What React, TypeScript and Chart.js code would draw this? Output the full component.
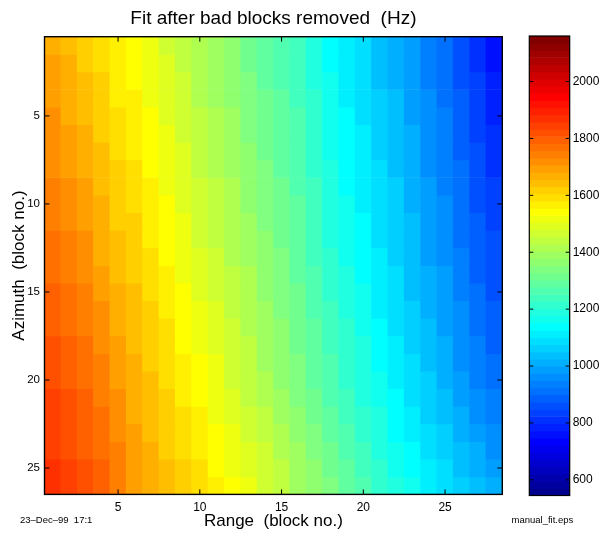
import React, { useEffect, useRef } from "react";
import { Chart, registerables } from "chart.js";

Chart.register(...registerables);

// ---------------- data ----------------
const rangeBlocks = [1, 2, 3, 4, 5, 6, 7, 8, 9, 10, 11, 12, 13, 14, 15, 16, 17, 18, 19, 20, 21, 22, 23, 24, 25, 26, 27, 28];
const azimuthBlocks = [1, 2, 3, 4, 5, 6, 7, 8, 9, 10, 11, 12, 13, 14, 15, 16, 17, 18, 19, 20, 21, 22, 23, 24, 25, 26];

const az01 = [1674, 1648, 1618, 1590, 1558, 1535, 1505, 1478, 1445, 1408, 1380, 1355, 1318, 1288, 1262, 1235, 1190, 1140, 1105, 1075, 1038, 1010, 975, 938, 908, 862, 812, 762];
const az02 = [1682, 1656, 1626, 1598, 1565, 1542, 1512, 1484, 1451, 1414, 1386, 1361, 1324, 1294, 1268, 1240, 1195, 1146, 1111, 1081, 1044, 1015, 980, 943, 913, 868, 818, 770];
const az03 = [1690, 1664, 1634, 1605, 1572, 1549, 1518, 1490, 1457, 1420, 1393, 1367, 1331, 1300, 1273, 1245, 1200, 1151, 1116, 1086, 1049, 1020, 985, 948, 918, 873, 825, 778];
const az04 = [1698, 1672, 1642, 1612, 1579, 1556, 1524, 1496, 1463, 1426, 1400, 1373, 1338, 1306, 1278, 1250, 1205, 1156, 1121, 1091, 1054, 1025, 990, 953, 923, 878, 832, 786];
const az05 = [1706, 1680, 1650, 1620, 1586, 1563, 1531, 1502, 1469, 1432, 1406, 1379, 1344, 1312, 1284, 1255, 1210, 1162, 1127, 1097, 1060, 1030, 995, 958, 928, 884, 838, 794];
const az06 = [1714, 1688, 1658, 1628, 1593, 1570, 1538, 1508, 1475, 1438, 1412, 1385, 1350, 1318, 1290, 1260, 1215, 1168, 1133, 1103, 1066, 1035, 1000, 963, 933, 890, 844, 802];
const az07 = [1722, 1696, 1666, 1635, 1600, 1577, 1544, 1514, 1481, 1444, 1419, 1391, 1357, 1324, 1295, 1265, 1220, 1173, 1138, 1108, 1071, 1040, 1005, 968, 938, 895, 851, 810];
const az08 = [1730, 1704, 1674, 1642, 1607, 1584, 1550, 1520, 1487, 1450, 1426, 1397, 1364, 1330, 1300, 1270, 1225, 1178, 1143, 1113, 1076, 1045, 1010, 973, 943, 900, 858, 818];
const az09 = [1738, 1712, 1682, 1650, 1614, 1591, 1557, 1526, 1493, 1456, 1432, 1403, 1370, 1336, 1306, 1275, 1230, 1184, 1149, 1119, 1082, 1050, 1015, 978, 948, 906, 864, 826];
const az10 = [1746, 1720, 1690, 1658, 1621, 1598, 1564, 1532, 1499, 1462, 1438, 1409, 1376, 1342, 1312, 1280, 1235, 1190, 1155, 1125, 1088, 1055, 1020, 983, 953, 912, 870, 834];
const az11 = [1754, 1728, 1698, 1665, 1628, 1605, 1570, 1538, 1505, 1468, 1445, 1415, 1383, 1348, 1317, 1285, 1240, 1195, 1160, 1130, 1093, 1060, 1025, 988, 958, 917, 877, 842];
const az12 = [1762, 1736, 1706, 1672, 1635, 1612, 1576, 1544, 1511, 1474, 1452, 1421, 1390, 1354, 1322, 1290, 1245, 1200, 1165, 1135, 1098, 1065, 1030, 993, 963, 922, 884, 850];
const az13 = [1770, 1744, 1714, 1680, 1642, 1619, 1583, 1550, 1517, 1480, 1458, 1427, 1396, 1360, 1328, 1295, 1250, 1206, 1171, 1141, 1104, 1070, 1035, 998, 968, 928, 890, 858];
const az14 = [1779, 1752, 1723, 1689, 1650, 1626, 1591, 1557, 1524, 1489, 1466, 1434, 1403, 1366, 1335, 1301, 1257, 1214, 1179, 1148, 1111, 1077, 1042, 1005, 975, 935, 897, 865];
const az15 = [1787, 1761, 1732, 1698, 1659, 1633, 1599, 1565, 1532, 1497, 1473, 1442, 1409, 1373, 1341, 1308, 1264, 1221, 1186, 1155, 1118, 1083, 1048, 1013, 981, 942, 905, 873];
const az16 = [1796, 1769, 1741, 1707, 1667, 1640, 1607, 1572, 1539, 1506, 1481, 1449, 1416, 1379, 1348, 1314, 1271, 1229, 1194, 1162, 1125, 1090, 1055, 1020, 988, 949, 912, 880];
const az17 = [1804, 1778, 1751, 1715, 1675, 1647, 1614, 1580, 1546, 1514, 1489, 1456, 1422, 1386, 1355, 1321, 1279, 1237, 1202, 1169, 1131, 1096, 1062, 1028, 995, 957, 920, 888];
const az18 = [1813, 1786, 1760, 1724, 1683, 1654, 1622, 1587, 1553, 1523, 1497, 1463, 1429, 1392, 1362, 1327, 1286, 1245, 1210, 1176, 1138, 1103, 1069, 1035, 1002, 964, 927, 895];
const az19 = [1821, 1795, 1769, 1733, 1692, 1661, 1630, 1595, 1561, 1531, 1504, 1471, 1435, 1399, 1368, 1334, 1293, 1252, 1217, 1183, 1145, 1109, 1075, 1043, 1008, 971, 935, 903];
const az20 = [1830, 1803, 1778, 1742, 1700, 1668, 1638, 1602, 1568, 1540, 1512, 1478, 1442, 1405, 1375, 1340, 1300, 1260, 1225, 1190, 1152, 1116, 1082, 1050, 1015, 978, 942, 910];
const az21 = [1837, 1810, 1785, 1750, 1708, 1674, 1643, 1609, 1576, 1548, 1519, 1488, 1453, 1417, 1387, 1350, 1312, 1271, 1237, 1201, 1164, 1127, 1094, 1062, 1028, 992, 957, 925];
const az22 = [1843, 1817, 1791, 1758, 1717, 1680, 1649, 1615, 1584, 1556, 1526, 1497, 1465, 1429, 1398, 1360, 1324, 1283, 1250, 1211, 1176, 1138, 1105, 1073, 1041, 1006, 972, 940];
const az23 = [1850, 1824, 1798, 1766, 1725, 1687, 1654, 1622, 1592, 1564, 1534, 1507, 1476, 1442, 1410, 1370, 1336, 1294, 1262, 1222, 1189, 1149, 1117, 1085, 1054, 1020, 987, 955];
const az24 = [1857, 1831, 1805, 1774, 1733, 1693, 1659, 1629, 1599, 1572, 1541, 1516, 1487, 1454, 1422, 1380, 1347, 1305, 1274, 1233, 1201, 1159, 1128, 1097, 1066, 1034, 1001, 970];
const az25 = [1863, 1838, 1811, 1782, 1742, 1699, 1665, 1635, 1607, 1580, 1548, 1526, 1499, 1466, 1433, 1390, 1359, 1317, 1287, 1243, 1213, 1170, 1140, 1108, 1079, 1048, 1016, 985];
const az26 = [1870, 1845, 1818, 1790, 1750, 1705, 1670, 1642, 1615, 1588, 1555, 1535, 1510, 1478, 1445, 1400, 1371, 1328, 1299, 1254, 1225, 1181, 1151, 1120, 1092, 1062, 1031, 1000];

const fitRows = [az01, az02, az03, az04, az05, az06, az07, az08, az09, az10, az11, az12, az13, az14, az15, az16, az17, az18, az19, az20, az21, az22, az23, az24, az25, az26];

const xTicks = [5, 10, 15, 20, 25];
const yTicks = [5, 10, 15, 20, 25];
const colorbarTicks = [600, 800, 1000, 1200, 1400, 1600, 1800, 2000];
const colorLimits = [545, 2160];
const colorLevelCount = 64;

const titleText = "Fit after bad blocks removed  (Hz)";
const xTitle = "Range  (block no.)";
const yTitle = "Azimuth  (block no.)";
const dateText = "23\u2013Dec\u201399  17:1";
const fileText = "manual_fit.eps";

// ---------------- styling helpers ----------------
const FONT = "'Liberation Sans', Arial, Helvetica, sans-serif";
const W = 603;
const H = 533;

function jetColor(k: number): string {
  const c = (x: number) => Math.max(0, Math.min(1, x));
  let r = 0, g = 0, b = 0;
  if (k <= 7) { b = (9 + k) / 16; }
  else if (k <= 23) { g = (k - 7) / 16; b = 1; }
  else if (k <= 39) { r = (k - 23) / 16; g = 1; b = (39 - k) / 16; }
  else if (k <= 55) { r = 1; g = (55 - k) / 16; }
  else { r = (71 - k) / 16; }
  return `rgb(${Math.round(c(r) * 255)},${Math.round(c(g) * 255)},${Math.round(c(b) * 255)})`;
}

function valueColor(v: number): string {
  const [lo, hi] = colorLimits;
  let k = Math.floor(((v - lo) / (hi - lo)) * colorLevelCount);
  k = Math.max(0, Math.min(colorLevelCount - 1, k));
  return jetColor(k);
}

const colorLevels = Array.from({ length: colorLevelCount }, (_, i) => i);

function line(ctx: CanvasRenderingContext2D, x1: number, y1: number, x2: number, y2: number) {
  ctx.beginPath();
  ctx.moveTo(x1, y1);
  ctx.lineTo(x2, y2);
  ctx.stroke();
}

const mainFrame = {
  id: "mainFrame",
  afterDraw(chart: any) {
    const { ctx, chartArea: a, scales } = chart;
    const x = scales.x;
    const y = scales.y;
    ctx.save();
    ctx.strokeStyle = "#000";
    ctx.lineWidth = 1;
    const tl = 5;
    xTicks.forEach((v) => {
      const px = x.getPixelForValue(v);
      line(ctx, px, a.top, px, a.top + tl);
      line(ctx, px, a.bottom, px, a.bottom - tl);
    });
    yTicks.forEach((v) => {
      const py = y.getPixelForValue(v);
      line(ctx, a.left, py, a.left + tl, py);
      line(ctx, a.right, py, a.right - tl, py);
    });
    ctx.lineWidth = 1.4;
    ctx.strokeRect(a.left, a.top, a.right - a.left, a.bottom - a.top);
    ctx.fillStyle = "#000";
    ctx.textBaseline = "alphabetic";
    ctx.textAlign = "left";
    ctx.font = `9.5px ${FONT}`;
    ctx.fillText(dateText, 20, 523);
    ctx.fillText(fileText, 511.5, 523);
    ctx.restore();
  },
};

const barFrame = {
  id: "barFrame",
  afterDraw(chart: any) {
    const { ctx, chartArea: a, scales } = chart;
    const s = scales.y2;
    ctx.save();
    ctx.strokeStyle = "#000";
    ctx.lineWidth = 1;
    colorbarTicks.forEach((v) => {
      const py = s.getPixelForValue(v);
      line(ctx, a.left, py, a.left + 4, py);
      line(ctx, a.right, py, a.right - 4, py);
    });
    ctx.lineWidth = 1.2;
    ctx.strokeRect(a.left, a.top, a.right - a.left, a.bottom - a.top);
    ctx.restore();
  },
};

export default function App() {
  const mainRef = useRef<HTMLCanvasElement>(null);
  const barRef = useRef<HTMLCanvasElement>(null);

  useEffect(() => {
    const datasets = fitRows.map((row, ri) => {
      const az = azimuthBlocks[ri];
      return {
        label: `Azimuth ${az}`,
        data: rangeBlocks.map((rb) => ({ x: rb, y: [az - 0.5, az + 0.5] })),
        backgroundColor: row.map((v) => valueColor(v)),
        borderWidth: 0,
        grouped: false,
        barPercentage: 1,
        categoryPercentage: 1,
      };
    });

    const main = new Chart(mainRef.current as HTMLCanvasElement, {
      type: "bar",
      data: { datasets: datasets as any },
      plugins: [mainFrame],
      options: {
        responsive: false,
        animation: false,
        events: [],
        layout: { padding: { left: 0, top: 0, right: 100.7, bottom: 0 } },
        plugins: {
          legend: { display: false },
          tooltip: { enabled: false },
          title: { display: false },
        },
        scales: {
          x: {
            type: "linear",
            min: 0.5,
            max: 28.5,
            offset: false,
            grid: { display: false, drawTicks: false },
            border: { display: false },
            afterBuildTicks: (axis: any) => {
              axis.ticks = xTicks.map((value) => ({ value }));
            },
            afterFit: (axis: any) => {
              axis.height = 38.6;
            },
            ticks: {
              color: "#000",
              font: { family: FONT, size: 12 },
              padding: 6,
              maxRotation: 0,
              autoSkip: false,
            },
            title: {
              display: true,
              text: xTitle,
              color: "#000",
              font: { family: FONT, size: 17, lineHeight: 1.2 },
              padding: { top: 0, bottom: 1 },
            },
          },
          xTop: {
            type: "linear",
            position: "top",
            min: 0.5,
            max: 28.5,
            offset: false,
            grid: { display: false, drawTicks: false },
            border: { display: false },
            ticks: { display: false },
            afterFit: (axis: any) => {
              axis.height = 36.7;
            },
            title: {
              display: true,
              text: titleText,
              color: "#000",
              font: { family: FONT, size: 19, lineHeight: 1.2 },
              padding: { top: 7, bottom: 0 },
            },
          },
          y: {
            type: "linear",
            reverse: true,
            min: 0.5,
            max: 26.5,
            offset: false,
            grid: { display: false, drawTicks: false },
            border: { display: false },
            afterBuildTicks: (axis: any) => {
              axis.ticks = yTicks.map((value) => ({ value }));
            },
            afterFit: (axis: any) => {
              axis.width = 44.5;
            },
            ticks: {
              color: "#000",
              font: { family: FONT, size: 11.5 },
              padding: 4.5,
              autoSkip: false,
            },
            title: {
              display: true,
              text: yTitle,
              color: "#000",
              font: { family: FONT, size: 17, lineHeight: 1.2 },
              padding: { top: 9, bottom: 0 },
            },
          },
        },
      } as any,
    });

    const cbar = new Chart(barRef.current as HTMLCanvasElement, {
      type: "bar",
      data: {
        labels: colorLevels.map((k) => String(k)),
        datasets: [
          {
            label: "colormap",
            data: colorLevels.map(() => [0, 1]) as any,
            backgroundColor: colorLevels.map((k) => jetColor(k)),
            borderWidth: 0,
            barPercentage: 1,
            categoryPercentage: 1,
          },
        ],
      },
      plugins: [barFrame],
      options: {
        indexAxis: "y",
        responsive: false,
        animation: false,
        events: [],
        layout: { padding: { left: 529.3, top: 36, right: 0, bottom: 37.5 } },
        plugins: { legend: { display: false }, tooltip: { enabled: false }, title: { display: false } },
        scales: {
          x: { type: "linear", min: 0, max: 1, display: false, offset: false },
          y: { type: "category", display: false, reverse: true, offset: true },
          y2: {
            type: "linear",
            position: "right",
            min: colorLimits[0],
            max: colorLimits[1],
            offset: false,
            grid: { display: false, drawTicks: false, offset: false },
            border: { display: false },
            afterBuildTicks: (axis: any) => {
              axis.ticks = colorbarTicks.map((value) => ({ value }));
            },
            afterFit: (axis: any) => {
              axis.width = W - 569.7;
            },
            ticks: {
              color: "#000",
              font: { family: FONT, size: 12 },
              padding: 3,
              autoSkip: false,
              callback: (value: any) => String(value),
            },
          },
        },
      } as any,
    });

    return () => {
      main.destroy();
      cbar.destroy();
    };
  }, []);

  return (
    <div style={{ position: "fixed", left: 0, top: 0, width: W, height: H, background: "#fff", overflow: "hidden" }}>
      <canvas ref={mainRef} width={W} height={H} style={{ position: "absolute", left: 0, top: 0, width: W, height: H }} />
      <canvas ref={barRef} width={W} height={H} style={{ position: "absolute", left: 0, top: 0, width: W, height: H }} />
    </div>
  );
}
